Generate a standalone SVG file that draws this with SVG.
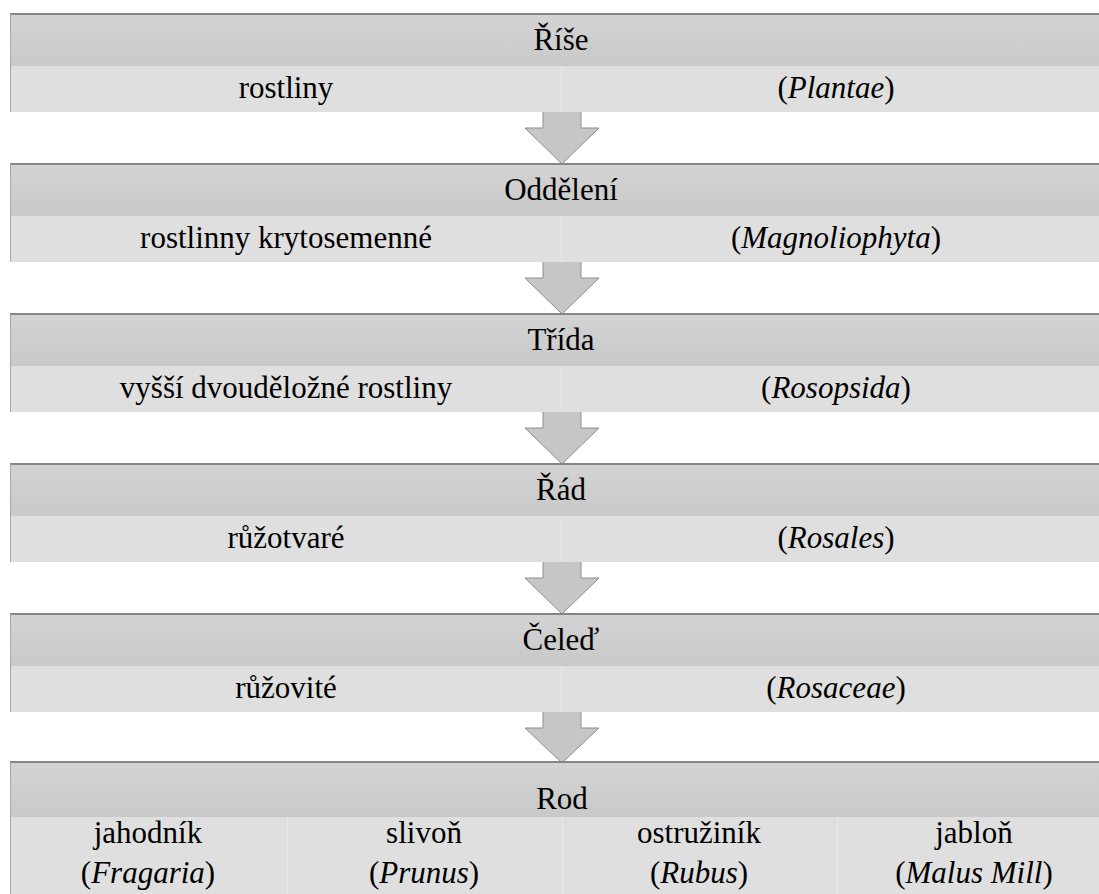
<svg xmlns="http://www.w3.org/2000/svg" width="1099" height="894" viewBox="0 0 1099 894">
<style>
.t{font-size:31px;fill:#000;text-anchor:middle}
.it{font-style:italic}
.hdr{fill:url(#hg)}
.lt{fill:#dfdfdf}
.top{stroke:#858585;stroke-width:2}
.edge{stroke:#a8a8a8;stroke-width:1}
.div{stroke:#e8e8e8;stroke-width:1}
.arrow{fill:#c6c6c6;stroke:#8f8f8f;stroke-width:1}
</style>
<defs>
<linearGradient id="hg" x1="0" y1="0" x2="0" y2="1">
<stop offset="0" stop-color="#d3d3d3"/>
<stop offset="1" stop-color="#c9c9c9"/>
</linearGradient>
</defs>
<rect width="1099" height="894" fill="#fff"/>

<g id="connectors">
<path class="arrow" d="M543 112 V128 H525 L562 164 L599 128 H581 V112"/>
<path class="arrow" d="M543 262 V278 H525 L562 314 L599 278 H581 V262"/>
<path class="arrow" d="M543 412 V428 H525 L562 464 L599 428 H581 V412"/>
<path class="arrow" d="M543 562 V578 H525 L562 614 L599 578 H581 V562"/>
<path class="arrow" d="M543 712 V728 H525 L562 763 L599 728 H581 V712"/>
</g>

<g id="node-rise">
<rect class="hdr" x="10" y="14" width="1102" height="52"/>
<rect class="lt" x="10" y="66" width="1102" height="46"/>
<line class="div" x1="561.5" y1="66" x2="561.5" y2="112"/>
<line class="top" x1="10" y1="14" x2="1112" y2="14"/>
<line class="edge" x1="10.5" y1="14" x2="10.5" y2="112"/>
<text class="t" font-family="Liberation Serif, serif" x="561" y="50">Říše</text>
<text class="t" font-family="Liberation Serif, serif" x="286" y="98">rostliny</text>
<text class="t" font-family="Liberation Serif, serif" x="836" y="98">(<tspan class="it">Plantae</tspan>)</text>
</g>

<g id="node-oddeleni">
<rect class="hdr" x="10" y="164" width="1102" height="52"/>
<rect class="lt" x="10" y="216" width="1102" height="46"/>
<line class="div" x1="561.5" y1="216" x2="561.5" y2="262"/>
<line class="top" x1="10" y1="164" x2="1112" y2="164"/>
<line class="edge" x1="10.5" y1="164" x2="10.5" y2="262"/>
<text class="t" font-family="Liberation Serif, serif" x="561" y="200">Oddělení</text>
<text class="t" font-family="Liberation Serif, serif" x="286" y="248">rostlinny krytosemenné</text>
<text class="t" font-family="Liberation Serif, serif" x="836" y="248">(<tspan class="it">Magnoliophyta</tspan>)</text>
</g>

<g id="node-trida">
<rect class="hdr" x="10" y="314" width="1102" height="52"/>
<rect class="lt" x="10" y="366" width="1102" height="46"/>
<line class="div" x1="561.5" y1="366" x2="561.5" y2="412"/>
<line class="top" x1="10" y1="314" x2="1112" y2="314"/>
<line class="edge" x1="10.5" y1="314" x2="10.5" y2="412"/>
<text class="t" font-family="Liberation Serif, serif" x="561" y="350">Třída</text>
<text class="t" font-family="Liberation Serif, serif" x="286" y="398">vyšší dvouděložné rostliny</text>
<text class="t" font-family="Liberation Serif, serif" x="836" y="398">(<tspan class="it">Rosopsida</tspan>)</text>
</g>

<g id="node-rad">
<rect class="hdr" x="10" y="464" width="1102" height="52"/>
<rect class="lt" x="10" y="516" width="1102" height="46"/>
<line class="div" x1="561.5" y1="516" x2="561.5" y2="562"/>
<line class="top" x1="10" y1="464" x2="1112" y2="464"/>
<line class="edge" x1="10.5" y1="464" x2="10.5" y2="562"/>
<text class="t" font-family="Liberation Serif, serif" x="561" y="500">Řád</text>
<text class="t" font-family="Liberation Serif, serif" x="286" y="548">růžotvaré</text>
<text class="t" font-family="Liberation Serif, serif" x="836" y="548">(<tspan class="it">Rosales</tspan>)</text>
</g>

<g id="node-celed">
<rect class="hdr" x="10" y="614" width="1102" height="52"/>
<rect class="lt" x="10" y="666" width="1102" height="46"/>
<line class="div" x1="561.5" y1="666" x2="561.5" y2="712"/>
<line class="top" x1="10" y1="614" x2="1112" y2="614"/>
<line class="edge" x1="10.5" y1="614" x2="10.5" y2="712"/>
<text class="t" font-family="Liberation Serif, serif" x="561" y="650">Čeleď</text>
<text class="t" font-family="Liberation Serif, serif" x="286" y="698">růžovité</text>
<text class="t" font-family="Liberation Serif, serif" x="836" y="698">(<tspan class="it">Rosaceae</tspan>)</text>
</g>

<g id="node-rod">
<rect class="hdr" x="10" y="762" width="1102" height="55"/>
<rect class="lt" x="10" y="817" width="1102" height="77"/>
<line class="div" x1="287.5" y1="817" x2="287.5" y2="894"/>
<line class="div" x1="562.5" y1="817" x2="562.5" y2="894"/>
<line class="div" x1="837.5" y1="817" x2="837.5" y2="894"/>
<line class="top" x1="10" y1="762" x2="1112" y2="762"/>
<line class="edge" x1="10.5" y1="762" x2="10.5" y2="894"/>
<text class="t" font-family="Liberation Serif, serif" x="562" y="809">Rod</text>
<text class="t" font-family="Liberation Serif, serif" x="148" y="843">jahodník</text>
<text class="t" font-family="Liberation Serif, serif" x="148" y="883">(<tspan class="it">Fragaria</tspan>)</text>
<text class="t" font-family="Liberation Serif, serif" x="424" y="843">slivoň</text>
<text class="t" font-family="Liberation Serif, serif" x="424" y="883">(<tspan class="it">Prunus</tspan>)</text>
<text class="t" font-family="Liberation Serif, serif" x="699" y="843">ostružiník</text>
<text class="t" font-family="Liberation Serif, serif" x="699" y="883">(<tspan class="it">Rubus</tspan>)</text>
<text class="t" font-family="Liberation Serif, serif" x="974" y="843">jabloň</text>
<text class="t" font-family="Liberation Serif, serif" x="974" y="883">(<tspan class="it">Malus Mill</tspan>)</text>
</g>
</svg>
